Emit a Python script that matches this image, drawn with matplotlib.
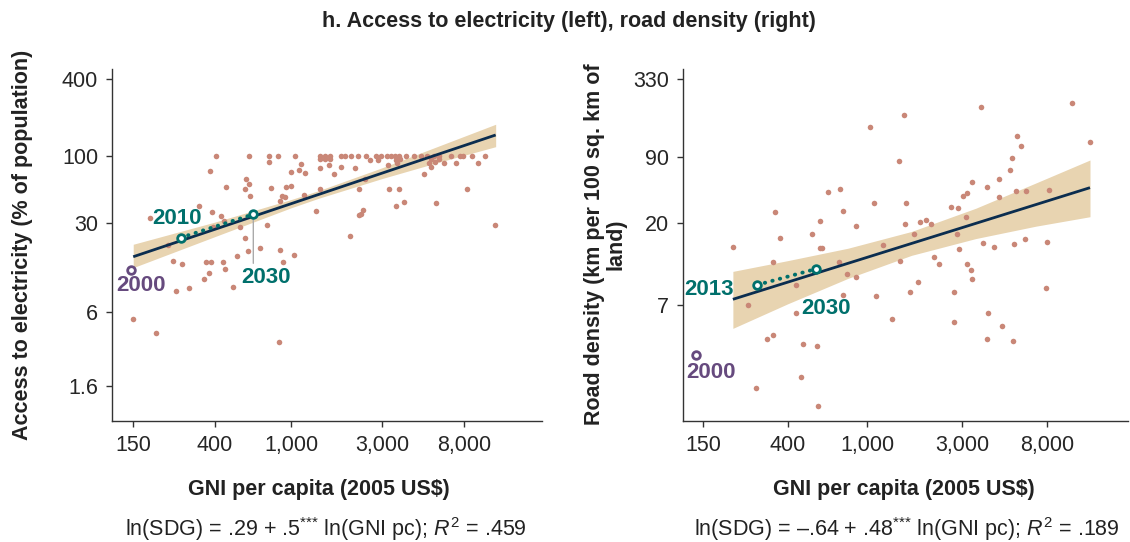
import matplotlib
matplotlib.use("Agg")
import matplotlib.pyplot as plt
from matplotlib.ticker import FixedLocator, FixedFormatter, NullLocator

plt.rcParams['font.family'] = ['Liberation Sans', 'DejaVu Sans']
plt.rcParams['mathtext.fontset'] = 'custom'
plt.rcParams['mathtext.rm'] = 'Liberation Sans'
plt.rcParams['mathtext.it'] = 'Liberation Sans:italic'
plt.rcParams['mathtext.bf'] = 'Liberation Sans:bold'

# ---------------- data: left panel (access to electricity) ----------------
elec_gni = [408, 600, 770, 858, 1054, 1418, 1499, 1599, 1826, 1923, 2060, 2244, 2456, 2770, 2955,
            3165, 3318, 3507, 3677, 3990, 4366, 4758, 5141, 5555, 5898, 6825, 7599, 7898, 8832, 10307,
            770, 1418, 1499, 1599, 2843, 3553, 3709, 5412, 5949, 2586,
            1128, 1571, 1826, 2150, 1418, 3219, 3584, 5275, 5650, 5412, 6290, 7280, 9420, 1105,
            378, 1005, 1178, 1676, 4966,
            580, 2435, 606,
            455, 787, 575, 947, 1001, 1418, 2264, 3247, 3677, 8315,
            611, 899, 926, 1168, 872,
            331, 3889, 3553, 5748,
            388, 1352, 2373,
            429, 2264, 2313,
            183, 448, 391, 542, 751, 11675,
            2025, 575, 227, 692, 880, 593, 1031, 521,
            241, 271, 362, 382, 443, 911,
            454, 371, 353,
            251, 292, 495,
            150, 197, 865]
elec_val = [100] * 30 + \
           [90.3, 94.2, 95.3, 94.0, 93.1, 93.1, 94.2, 95.3, 95.3, 93.1,
            86.0, 84.5, 82.6, 81.1, 80.1, 84.5, 87.6, 87.6, 89.2, 81.5, 87.6, 87.6, 87.6, 78.2,
            76.3, 74.5, 73.2, 71.9, 72.3,
            66.1, 66.5, 60.4,
            56.9, 56.2, 54.9, 56.9, 58.6, 55.2, 55.2, 55.2, 55.2, 55.2,
            48.4, 48.9, 47.5, 49.5, 44.5,
            40.9, 43.4, 40.7, 42.9,
            36.7, 36.9, 37.8,
            33.7, 34.4, 35.0,
            32.6, 30.9, 27.7, 28.0, 29.1, 29.1,
            23.7, 22.9, 20.0, 19.2, 18.4, 18.0, 16.9, 16.6,
            15.2, 14.4, 14.9, 14.7, 14.8, 14.7,
            13.1, 12.1, 10.9,
            8.75, 9.29, 9.47,
            5.32, 4.11, 3.51]

elec_fit_gni = [150, 11720]
elec_fit_val = [16.3, 145.9]
elec_band_gni = [150, 400, 1000, 1400, 3000, 6000, 11720]
elec_band_hi = [20.4, 30.4, 45.6, 53.7, 81.0, 120.6, 177.0]
elec_band_lo = [13.4, 23.4, 39.3, 46.8, 66.7, 89.9, 118.2]

elec_path_gni = [265.5, 635.6]      # 2010 -> 2030
elec_path_val = [22.97, 35.0]
elec_2000 = (146.1, 12.84)

elec_yticks = [1.6, 6, 30, 100, 400]
elec_ylabels = ['1.6', '6', '30', '100', '400']

# ---------------- data: right panel (road density) ----------------
road_gni = [212, 346, 364, 336, 252, 316, 336, 277, 638, 733, 753, 577, 528, 577, 591, 721, 788, 881,
            439, 440, 753, 476, 558, 467, 568, 1036, 1533, 1448, 1085, 1557, 881, 1204, 1551, 1845,
            1977, 2087, 1722, 1465, 1110, 1330, 1632, 1790, 2160, 2289, 2619, 2838, 3008, 3174, 3350,
            3138, 2817, 2883, 3174, 3324, 3350, 2732, 2732, 3702, 3984, 4592, 4592, 3818, 4334, 4029,
            3993, 4736, 5376, 5174, 5315, 5630, 5920, 5544, 6224, 5460, 6177, 7899, 7990, 8177,
            10584, 13077]
road_val = [18.9, 34.0, 21.8, 14.5, 6.95, 3.92, 4.17, 1.71, 48.3, 50.6, 34.9, 29.3, 23.3, 18.5, 18.5,
            14.5, 11.8, 11.3, 9.89, 6.13, 8.24, 3.59, 3.45, 2.03, 1.25, 146.4, 177.6, 81.0, 39.8, 39.6,
            27.0, 19.3, 27.7, 28.6, 29.8, 27.7, 23.3, 14.7, 8.10, 5.47, 8.68, 10.3, 15.9, 14.1, 37.0,
            36.6, 44.9, 46.9, 57.0, 31.2, 23.3, 18.2, 14.1, 12.8, 10.8, 8.77, 5.23, 204.7, 52.0, 59.9,
            43.9, 20.0, 18.7, 6.06, 3.94, 4.89, 3.78, 69.5, 86.3, 124.1, 105.3, 49.1, 49.1, 19.9,
            21.5, 9.39, 20.3, 49.4, 220.5, 113.3]

road_fit_gni = [212, 13077]
road_fit_val = [7.70, 51.7]
road_band_gni = [212, 400, 800, 1667, 3500, 7000, 13077]
road_band_hi = [12.4, 14.9, 18.4, 24.5, 36.4, 56.0, 82.9]
road_band_lo = [4.69, 7.14, 11.0, 16.3, 21.7, 26.8, 31.5]

road_path_gni = [281, 551]          # 2013 -> 2030
road_path_val = [9.85, 12.9]
road_2000 = (138, 2.98)

road_yticks = [7, 28.2, 87.7, 330]
road_ylabels = ['7', '20', '90', '330']

gni_ticks = [150, 400, 1000, 3000, 8000]
gni_labels = ['150', '400', '1,000', '3,000', '8,000']

# ---------------- styles ----------------
DOT = '#C98777'
BAND = '#E8D4B1'
LINE = '#0B2D4F'
TEAL = '#00706C'
PURPLE = '#664A7E'
AXC = '#333333'
TXT = '#222222'
FS = 15.5

fig = plt.figure(figsize=(11.3, 5.42), dpi=100)
axL = fig.add_axes([112 / 1130, 1 - 421 / 542, 430 / 1130, 352 / 542])
axR = fig.add_axes([683 / 1130, 1 - 421 / 542, 445 / 1130, 352 / 542])


def style(ax, xlim, ylim, yticks, ylabels):
    ax.set_xscale('log')
    ax.set_yscale('log')
    ax.set_xlim(*xlim)
    ax.set_ylim(*ylim)
    ax.xaxis.set_major_locator(FixedLocator(gni_ticks))
    ax.xaxis.set_major_formatter(FixedFormatter(gni_labels))
    ax.xaxis.set_minor_locator(NullLocator())
    ax.yaxis.set_major_locator(FixedLocator(yticks))
    ax.yaxis.set_major_formatter(FixedFormatter(ylabels))
    ax.yaxis.set_minor_locator(NullLocator())
    for s in ('top', 'right'):
        ax.spines[s].set_visible(False)
    for s in ('left', 'bottom'):
        ax.spines[s].set_color(AXC)
        ax.spines[s].set_linewidth(1.0)
    ax.tick_params(axis='both', direction='out', length=4.5, width=1.0, color=AXC,
                   labelsize=FS, labelcolor='#262626', pad=5.5)
    ax.patch.set_alpha(0)


def panel(ax, gx, gy, fx, fy, bx, bhi, blo, px, py, p2000, lbl_start, offs):
    ax.fill_between(bx, blo, bhi, color=BAND, lw=0, zorder=1)
    ax.scatter(gx, gy, s=16, color=DOT, lw=0, zorder=2)
    ax.plot(fx, fy, color=LINE, lw=2.0, zorder=3, solid_capstyle='butt')
    ax.plot(px, py, color=TEAL, lw=2.8, linestyle=(0, (0.1, 1.9)),
            dash_capstyle='round', zorder=4)
    ax.plot(px, py, 'o', ms=5.5, mfc='white', mec=TEAL, mew=2.0, zorder=5)
    ax.plot([p2000[0]], [p2000[1]], 'o', ms=5.5, mfc='white', mec=PURPLE, mew=2.0, zorder=5)
    kw = dict(textcoords='offset points', ha='center', va='center', fontsize=FS + 0.5,
              fontweight='bold', annotation_clip=False)
    ax.annotate(lbl_start, xy=(px[0], py[0]), xytext=offs[0], color=TEAL, **kw)
    ax.annotate('2030', xy=(px[1], py[1]), xytext=offs[1], color=TEAL, **kw)
    ax.annotate('2000', xy=p2000, xytext=offs[2], color=PURPLE, **kw)


style(axL, (116.2, 20460), (0.847, 478.6), elec_yticks, elec_ylabels)
style(axR, (119.2, 20280), (0.966, 391.4), road_yticks, road_ylabels)

panel(axL, elec_gni, elec_val, elec_fit_gni, elec_fit_val, elec_band_gni, elec_band_hi,
      elec_band_lo, elec_path_gni, elec_path_val, elec_2000, '2010',
      [(-2.9, 14.0), (8.8, -45.5), (7.3, -11.0)])
# leader line for the 2030 label (left)
axL.annotate('', xy=(elec_path_gni[1], elec_path_val[1]), xytext=(0, -35.3),
             textcoords='offset points',
             arrowprops=dict(arrowstyle='-', color='#AAAAAA', lw=1.0, shrinkA=0, shrinkB=3.5),
             zorder=3.5)

panel(axR, road_gni, road_val, road_fit_gni, road_fit_val, road_band_gni, road_band_hi,
      road_band_lo, road_path_gni, road_path_val, road_2000, '2013',
      [(-34.8, -3.6), (7.6, -28.6), (11.2, -12.7)])

# ---------------- texts ----------------
fig.text(0.5035, 1 - 22 / 542, 'h. Access to electricity (left), road density (right)',
         ha='center', va='center', fontsize=FS, fontweight='bold', color=TXT)

for xc in (0.2819, 0.800):
    fig.text(xc, 1 - 490 / 542, 'GNI per capita (2005 US$)', ha='center', va='center',
             fontsize=FS, fontweight='bold', color=TXT)

fig.text(0.2885, 1 - 529 / 542,
         'ln(SDG) = .29 + .5$^{{*}{*}{*}}$ ln(GNI pc); $R^{2}$ = .459',
         ha='center', va='center', fontsize=FS, color=TXT)
fig.text(0.8022, 1 - 529 / 542,
         'ln(SDG) = \u2013.64 + .48$^{{*}{*}{*}}$ ln(GNI pc); $R^{2}$ = .189',
         ha='center', va='center', fontsize=FS, color=TXT)

fig.text(0.0195, 1 - 245 / 542, 'Access to electricity (% of population)', rotation=90,
         ha='center', va='center', fontsize=FS, fontweight='bold', color=TXT)
fig.text(0.5358, 1 - 244 / 542, 'Road density (km per 100 sq. km of\nland)', rotation=90,
         ha='center', va='center', multialignment='center', linespacing=1.05,
         fontsize=FS, fontweight='bold', color=TXT)

fig.savefig('out.png', dpi=100)
